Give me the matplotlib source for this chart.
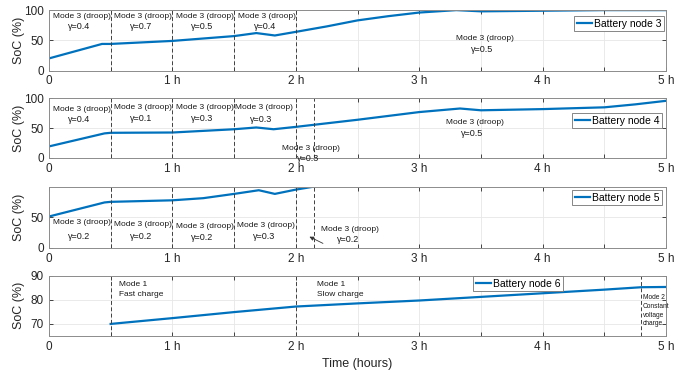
import matplotlib
matplotlib.use("Agg")
import matplotlib.pyplot as plt
import numpy as np

plt.rcParams["font.family"] = ["Liberation Sans", "DejaVu Sans"]

# SoC traces (time in hours, SoC in %)
t_node3 = [0, 0.43, 0.5, 1.0, 1.5, 1.68, 1.83, 2.0, 2.25, 2.5, 2.75, 3.0, 3.3, 3.5, 4.0, 4.5, 5.0]
soc_node3 = [20, 44, 44, 49, 57, 62, 58, 64, 73, 83, 90, 96, 100, 98, 99, 100, 100]

t_node4 = [0, 0.45, 0.5, 1.0, 1.5, 1.68, 1.82, 2.0, 2.5, 3.0, 3.33, 3.5, 4.0, 4.5, 4.75, 5.0]
soc_node4 = [19, 41, 42, 42.5, 48, 51, 48, 52, 64, 77, 83, 80, 82, 85, 90, 96]

t_node5 = [0, 0.45, 0.5, 1.0, 1.25, 1.5, 1.7, 1.83, 2.0, 2.15]
soc_node5 = [51, 74, 75, 77.5, 81, 88, 94, 88, 95, 100]

t_node6 = [0.5, 1.0, 1.5, 2.0, 2.5, 3.0, 3.5, 4.0, 4.5, 4.8, 5.0]
soc_node6 = [70, 72.4, 74.9, 77.2, 78.5, 79.7, 81.2, 82.7, 84.2, 85.2, 85.3]

labels = ["Battery node 3", "Battery node 4", "Battery node 5", "Battery node 6"]

# mode switching instants
switch_3 = [0.5, 1.0, 1.5, 2.0]
switch_4 = [0.5, 1.0, 1.5, 2.0, 2.15]
switch_5 = [0.5, 1.0, 1.5, 2.0, 2.15]
switch_6 = [0.5, 2.0, 4.8]

# droop annotations: (x centre, y first line, y second line, gamma)
notes_3 = [(0.265, 90, 73, "0.4"), (0.765, 90, 73, "0.7"), (1.26, 90, 73, "0.5"),
           (1.77, 90, 73, "0.4"), (3.53, 53, 35, "0.5")]
notes_4 = [(0.265, 82, 65, "0.4"), (0.765, 84, 66, "0.1"), (1.26, 84, 66, "0.3"),
           (1.74, 84, 65, "0.3"), (2.12, 16, -1, "0.3"), (3.45, 59, 41, "0.5")]
notes_5 = [(0.265, 41, 18, "0.2"), (0.765, 37.5, 18, "0.2"), (1.26, 34.4, 16, "0.2"),
           (1.76, 36, 18, "0.3"), (2.44, 30, 12.6, "0.2")]

line_col = "#0072BD"

fig = plt.figure(figsize=(6.99, 3.75), dpi=100)
boxes = [(0.070, 0.812, 0.883, 0.161),
         (0.070, 0.5795, 0.883, 0.158),
         (0.070, 0.3395, 0.883, 0.163),
         (0.070, 0.104, 0.883, 0.161)]
axes = [fig.add_axes(b) for b in boxes]

series = [(t_node3, soc_node3), (t_node4, soc_node4), (t_node5, soc_node5), (t_node6, soc_node6)]
switches = [switch_3, switch_4, switch_5, switch_6]
legend_pos = [(0.998, 0.92), (0.995, 0.77), (0.995, 0.96), (0.76, 1.01)]
legend_loc = ["upper right", "upper right", "upper right", "upper center"]

xt = np.arange(0, 5.01, 0.5)
xtl = ["0" if v == 0 else (f"{int(v)} h" if v == int(v) else "") for v in xt]

for i, ax in enumerate(axes):
    t, s = series[i]
    ax.plot(t, s, color=line_col, lw=1.6, label=labels[i])
    for sw in switches[i]:
        ax.axvline(sw, color="0.25", ls=(0, (4, 2.5)), lw=0.7)
    ax.set_xlim(0, 5)
    ax.set_xticks(xt)
    ax.set_xticklabels(xtl)
    ax.grid(True, color="0.9", lw=0.6)
    ax.set_axisbelow(True)
    ax.tick_params(direction="in", top=True, right=True, labelsize=8.5,
                   colors="0.15", length=3, width=0.6)
    for sp in ax.spines.values():
        sp.set_color("0.55")
        sp.set_linewidth(0.7)
    ax.set_ylabel("SoC (%)", fontsize=9, color="0.15")
    ax.yaxis.set_label_coords(-0.038, 0.5)
    leg = ax.legend(loc=legend_loc[i], bbox_to_anchor=legend_pos[i], fontsize=7.5,
                    handlelength=1.5, handletextpad=0.15, borderpad=0.25,
                    fancybox=False, framealpha=1, borderaxespad=0.1)
    leg.get_frame().set_edgecolor("0.45")
    leg.get_frame().set_linewidth(0.6)

for ax in axes[:3]:
    ax.set_ylim(0, 100)
axes[0].set_yticks([0, 50, 100])
axes[1].set_yticks([0, 50, 100])
axes[2].set_yticks([0, 50])
axes[3].set_ylim(65, 90)
axes[3].set_yticks([70, 80, 90])

for ax, notes in zip(axes[:3], [notes_3, notes_4, notes_5]):
    for x, y1, y2, g in notes:
        ax.text(x, y1, "Mode 3 (droop)", fontsize=6, ha="center", va="center",
                color="0.1", clip_on=False)
        ax.text(x - 0.02, y2, f"\u03b3={g}", fontsize=6.5, ha="center", va="center",
                color="0.1", clip_on=False)

axes[2].annotate("", xy=(2.09, 20), xytext=(2.24, 5),
                 arrowprops=dict(arrowstyle="-|>", color="0.2", lw=0.6,
                                 mutation_scale=6))

axes[3].text(0.57, 84.1, "Mode 1\nFast charge", fontsize=6, ha="left", va="center",
             color="0.1", linespacing=1.6)
axes[3].text(2.17, 84.1, "Mode 1\nSlow charge", fontsize=6, ha="left", va="center",
             color="0.1", linespacing=1.6)
axes[3].text(4.81, 75.5, "Mode 2\nConstant\nvoltage\ncharge", fontsize=4.8,
             ha="left", va="center", color="0.1", linespacing=1.35)

axes[3].set_xlabel("Time (hours)", fontsize=9, color="0.15", labelpad=4)

fig.savefig("out.png", dpi=100)
